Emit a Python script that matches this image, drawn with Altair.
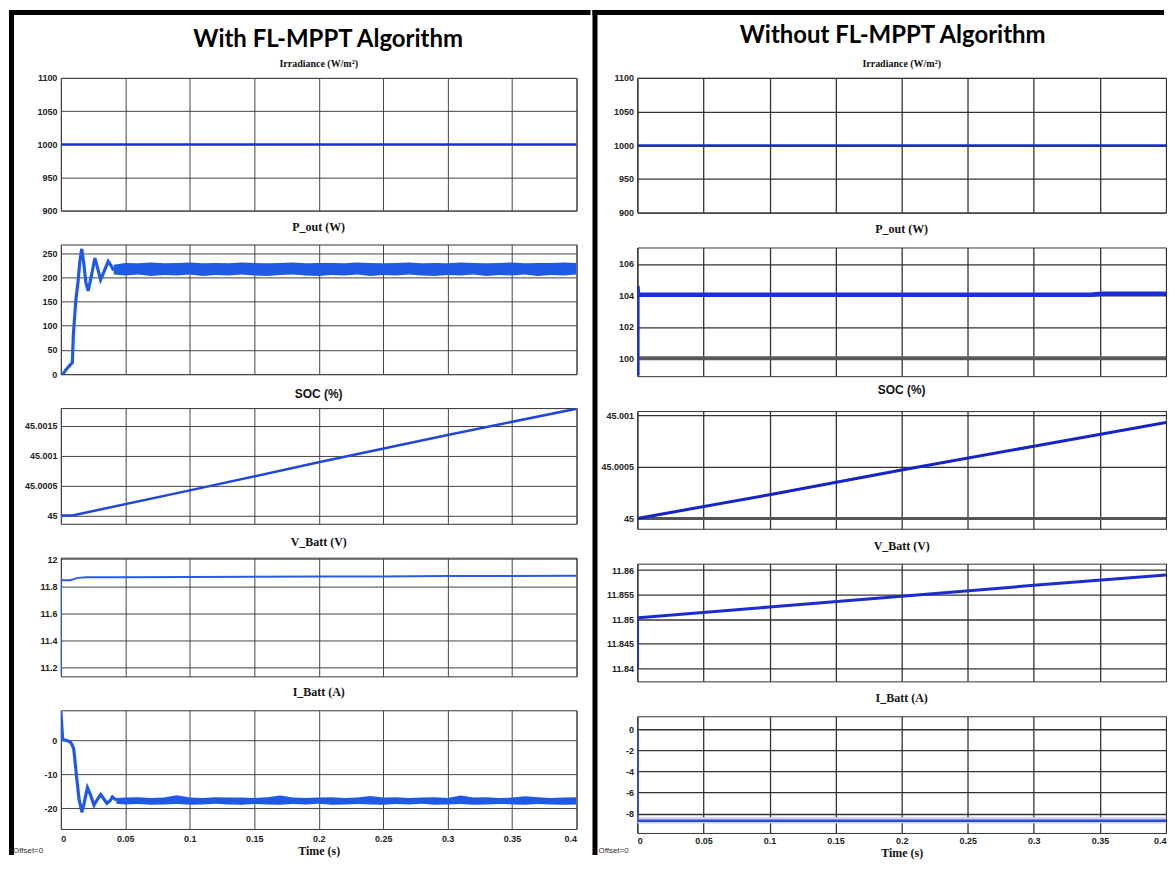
import altair as alt
import pandas as pd

TIME_TICKS = [0, 0.05, 0.1, 0.15, 0.2, 0.25, 0.3, 0.35, 0.4]

# ---------------- With FL-MPPT Algorithm (left column) ----------------
L_IRR_T = [0.0, 0.4]
L_IRR_V = [1000, 1000]

L_P_T = [0.0, 0.0015, 0.004, 0.0065, 0.0089, 0.0097, 0.0115, 0.0133, 0.0148, 0.0162, 0.0178,
         0.0195, 0.0212, 0.0238, 0.0264, 0.0286, 0.0308, 0.0338, 0.0367, 0.039, 0.041]
L_P_V = [0, 0, 9, 17, 24, 82, 150, 191, 235, 259, 228, 188, 172, 205, 240, 218, 195, 214, 233, 224, 214]
L_PB_T = [0.041, 0.05, 0.06, 0.07, 0.08, 0.09, 0.10, 0.11, 0.12, 0.13,
          0.14, 0.15, 0.16, 0.17, 0.18, 0.19, 0.20, 0.21, 0.22, 0.23,
          0.24, 0.25, 0.26, 0.27, 0.28, 0.29, 0.30, 0.31, 0.32, 0.33,
          0.34, 0.35, 0.36, 0.37, 0.38, 0.39, 0.40]
L_PB_HI = [226, 230, 229, 231, 229, 230, 231, 229, 230, 229,
           231, 230, 229, 230, 231, 229, 230, 230, 229, 231,
           230, 229, 230, 231, 229, 230, 229, 231, 230, 229,
           230, 231, 229, 230, 230, 231, 230]
L_PB_LO = [206, 204, 206, 203, 205, 204, 206, 203, 205, 204,
           206, 204, 203, 205, 206, 204, 203, 205, 204, 206,
           203, 205, 204, 206, 204, 203, 205, 204, 206, 203,
           205, 204, 206, 203, 205, 204, 206]

L_SOC_T = [0.0, 0.009, 0.1, 0.2, 0.3, 0.4]
L_SOC_V = [45.0, 45.0, 45.00042, 45.00089, 45.00135, 45.00179]

L_V_T = [0.0, 0.0, 0.0073, 0.010, 0.013, 0.02, 0.05, 0.1, 0.15, 0.2, 0.25, 0.3, 0.35, 0.4]
L_V_V = [11.135, 11.844, 11.844, 11.852, 11.861, 11.866, 11.866, 11.867, 11.869, 11.871,
         11.872, 11.874, 11.875, 11.876]

L_I_T = [0.0, 0.0014, 0.004, 0.007, 0.0085, 0.010, 0.012, 0.014, 0.0163, 0.018, 0.0206,
         0.023, 0.0257, 0.028, 0.0309, 0.033, 0.0357, 0.038, 0.040, 0.043]
L_I_V = [8.5, 0.2, 0.0, -0.4, -1.2, -2.5, -10, -17, -21.1, -18.5, -13.9,
         -16.0, -19.0, -17.5, -15.9, -17.0, -18.5, -17.8, -16.6, -17.6]
L_IB_T = [0.043, 0.05, 0.06, 0.07, 0.08, 0.09, 0.10, 0.11, 0.12, 0.13,
          0.14, 0.15, 0.16, 0.17, 0.18, 0.19, 0.20, 0.21, 0.22, 0.23,
          0.24, 0.25, 0.26, 0.27, 0.28, 0.29, 0.30, 0.31, 0.32, 0.33,
          0.34, 0.35, 0.36, 0.37, 0.38, 0.39, 0.40]
L_IB_HI = [-16.9, -16.8, -16.7, -16.9, -16.8, -16.1, -16.8, -16.9, -16.7, -16.8,
           -16.8, -16.9, -16.7, -16.2, -16.8, -16.9, -16.8, -16.7, -16.9, -16.8,
           -16.3, -16.8, -16.7, -16.9, -16.8, -16.7, -16.9, -16.2, -16.8, -16.7,
           -16.9, -16.8, -16.4, -16.7, -16.9, -16.8, -16.7]
L_IB_LO = [-18.6, -18.8, -18.7, -18.9, -18.8, -18.7, -18.9, -18.8, -18.6, -18.8,
           -18.9, -18.7, -18.8, -18.9, -18.7, -18.8, -18.6, -18.9, -18.8, -18.7,
           -18.8, -18.9, -18.7, -18.8, -18.6, -18.9, -18.8, -18.7, -18.9, -18.8,
           -18.7, -18.8, -18.9, -18.7, -18.8, -18.9, -18.8]

# ---------------- Without FL-MPPT Algorithm (right column) ----------------
R_IRR_T = [0.0, 0.4]
R_IRR_V = [1000, 1000]

R_P_T = [0.0, 0.0, 0.0005, 0.343, 0.347, 0.352, 0.4]
R_P_V = [98.9, 104.6, 104.04, 104.04, 104.07, 104.1, 104.1]
R_PREF_T = [0.0, 0.4]
R_PREF_V = [100, 100]

R_SOC_T = [0.0, 0.1, 0.2, 0.3, 0.4]
R_SOC_V = [45.0, 45.00023, 45.00047, 45.0007, 45.00093]
R_SOCREF_T = [0.0, 0.4]
R_SOCREF_V = [45.0, 45.0]

R_V_T = [0.0, 0.0, 0.001, 0.1, 0.2, 0.3, 0.4]
R_V_V = [11.84, 11.8503, 11.8503, 11.8525, 11.8547, 11.8569, 11.859]

R_I_T = [0.0, 0.0, 0.001, 0.4]
R_I_V = [0.0, -8.67, -8.67, -8.67]
R_IB_T = [0.0, 0.4]
R_IB_HI = [-8.35, -8.35]
R_IB_LO = [-8.95, -8.95]


def sdf(t, v):
    return pd.DataFrame({"t": t, "v": v, "i": list(range(len(t)))})


def bdf(t, hi, lo):
    return pd.DataFrame({"t": t, "hi": hi, "lo": lo})


ONE = pd.DataFrame({"k": [1]})

LABEL_EXPR = "replace(format(datum.value, '.7~g'), '\u2212', '-')"


def txt(text, x, y, font, size, weight="bold", align="center", color="#111"):
    return alt.Chart(pd.DataFrame({"label": [text]})).mark_text(
        font=font, fontSize=size, fontWeight=weight, align=align, baseline="middle", color=color
    ).encode(x=alt.value(x), y=alt.value(y), text="label:N")


def frame_bar(x1, x2, y1, y2):
    # solid black frame strip (decoration, in pixels of the panel)
    return alt.Chart(ONE).mark_rect(color="black").encode(
        x=alt.value(x1), x2=alt.value(x2), y=alt.value(y1), y2=alt.value(y2))


def panel(w, h, ydom, yticks, lines, bands=(), title="", title_y=-14,
          title_font="Liberation Serif", title_size=12, bottom=False,
          grid="#444", gridw=1.0, label_pad=6, extras=()):
    xkw = dict(values=TIME_TICKS, grid=True, gridColor=grid, gridWidth=gridw, gridOpacity=1,
               ticks=False, domain=False, labels=bottom, format="~g")
    if bottom:
        xkw.update(title="Time (s)", labelPadding=label_pad, titlePadding=2)
    else:
        xkw.update(title=None)
    xax = alt.Axis(**xkw)
    yax = alt.Axis(values=yticks, grid=True, gridColor=grid, gridWidth=gridw, gridOpacity=1,
                   ticks=False, domain=False, labelPadding=4, title=None,
                   labelExpr=LABEL_EXPR)
    xs = alt.Scale(domain=[0, 0.4], nice=False, zero=False)
    ys = alt.Scale(domain=ydom, nice=False, zero=False)
    layers = []
    for (df, color) in bands:
        layers.append(alt.Chart(df).mark_area(color=color, opacity=1, clip=True).encode(
            x=alt.X("t:Q", scale=xs, axis=xax),
            y=alt.Y("hi:Q", scale=ys, axis=yax),
            y2="lo:Q"))
    for (df, color, sw) in lines:
        layers.append(alt.Chart(df).mark_line(color=color, strokeWidth=sw, clip=True).encode(
            x=alt.X("t:Q", scale=xs, axis=xax),
            y=alt.Y("v:Q", scale=ys, axis=yax),
            order="i:Q"))
    layers.append(txt(title, w / 2, title_y, title_font, title_size))
    layers.extend(extras)
    return alt.layer(*layers).properties(width=w, height=h)


LW = 517
RW = 530
BL = "#1f5ae6"
BD = "#1530d8"
GL = "#444"
GR = "#333"

# ----- left column -----
L1 = panel(LW, 133, [900, 1100], [900, 950, 1000, 1050, 1100],
           [(sdf(L_IRR_T, L_IRR_V), BD, 2.2)],
           title="Irradiance (W/m²)", title_y=-14, title_size=10, grid=GL,
           extras=[frame_bar(-52, -47, -68, 779), frame_bar(-52, 531, -68, -63),
                   txt("With FL-MPPT Algorithm", 268, -38, "Lato", 24, color="#000")])
L2 = panel(LW, 130, [0, 268], [0, 50, 100, 150, 200, 250],
           [(sdf(L_P_T, L_P_V), BL, 3.2)],
           bands=[(bdf(L_PB_T, L_PB_HI, L_PB_LO), BL)],
           title="P_out (W)", title_y=-18, grid=GL)
L3 = panel(LW, 116, [44.99986, 45.0018], [45, 45.0005, 45.001, 45.0015],
           [(sdf(L_SOC_T, L_SOC_V), "#2046dc", 2.5)],
           title="SOC (%)", title_y=-14, title_font="Liberation Sans", grid=GL)
L4 = panel(LW, 119, [11.134, 12.01], [11.2, 11.4, 11.6, 11.8, 12],
           [(sdf(L_V_T, L_V_V), "#2a5ae0", 2)],
           title="V_Batt (V)", title_y=-16, grid=GL)
L5 = panel(LW, 119, [-26, 8.8], [-20, -10, 0],
           [(sdf(L_I_T, L_I_V), BL, 3.2)],
           bands=[(bdf(L_IB_T, L_IB_HI, L_IB_LO), BL)],
           title="I_Batt (A)", title_y=-18, grid=GL, bottom=True, label_pad=6,
           extras=[txt("Offset=0", -48, 141, "Liberation Sans", 8, weight="normal",
                       align="left", color="#333")])

# ----- right column -----
R1 = panel(RW, 135, [900, 1100], [900, 950, 1000, 1050, 1100],
           [(sdf(R_IRR_T, R_IRR_V), BD, 2.2)],
           title="Irradiance (W/m²)", title_y=-14, title_size=10, grid=GR, gridw=1.3,
           extras=[frame_bar(-45, -40, -68, 779), frame_bar(-45, 528, -68, -63),
                   txt("Without FL-MPPT Algorithm", 256, -42, "Lato", 24, color="#000")])
R2 = panel(RW, 129, [98.86, 107.05], [100, 102, 104, 106],
           [(sdf(R_PREF_T, R_PREF_V), "#5a5a5a", 4),
            (sdf(R_P_T, R_P_V), "#1a2ee0", 4.5)],
           title="P_out (W)", title_y=-19, grid=GR, gridw=1.3)
R3 = panel(RW, 118, [44.9999, 45.00104], [45, 45.0005, 45.001],
           [(sdf(R_SOCREF_T, R_SOCREF_V), "#555", 3),
            (sdf(R_SOC_T, R_SOC_V), "#1424c8", 3)],
           title="SOC (%)", title_y=-21, title_font="Liberation Sans", grid=GR, gridw=1.3)
R4 = panel(RW, 118, [11.8374, 11.8613], [11.84, 11.845, 11.85, 11.855, 11.86],
           [(sdf(R_V_T, R_V_V), "#1a2ed0", 3)],
           title="V_Batt (V)", title_y=-18, grid=GR, gridw=1.3)
R5 = panel(RW, 117, [-9.84, 1.25], [-8, -6, -4, -2, 0],
           [(sdf(R_I_T, R_I_V), "#2a4ae0", 2.5)],
           bands=[(bdf(R_IB_T, R_IB_HI, R_IB_LO), "#cdd1ea")],
           title="I_Batt (A)", title_y=-18, grid=GR, gridw=1.3, bottom=True, label_pad=4,
           extras=[txt("Offset=0", -39, 135, "Liberation Sans", 8, weight="normal",
                       align="left", color="#333")])

left = alt.vconcat(L1, L2, L3, L4, L5, spacing=34, bounds="flush")
right = alt.vconcat(R1, R2, R3, R4, R5, spacing=35, bounds="flush")

chart = alt.hconcat(left, right, spacing=0).properties(
    padding=0, background="white"
).configure_view(
    stroke="#333", strokeWidth=1
).configure_axis(
    labelFont="Liberation Sans", labelFontSize=9, labelFontWeight="bold", labelColor="#222",
    titleFont="Liberation Serif", titleFontSize=12, titleFontWeight="bold", titleColor="#111"
)

chart.save("out.html", embed_options={"renderer": "svg", "actions": False})
